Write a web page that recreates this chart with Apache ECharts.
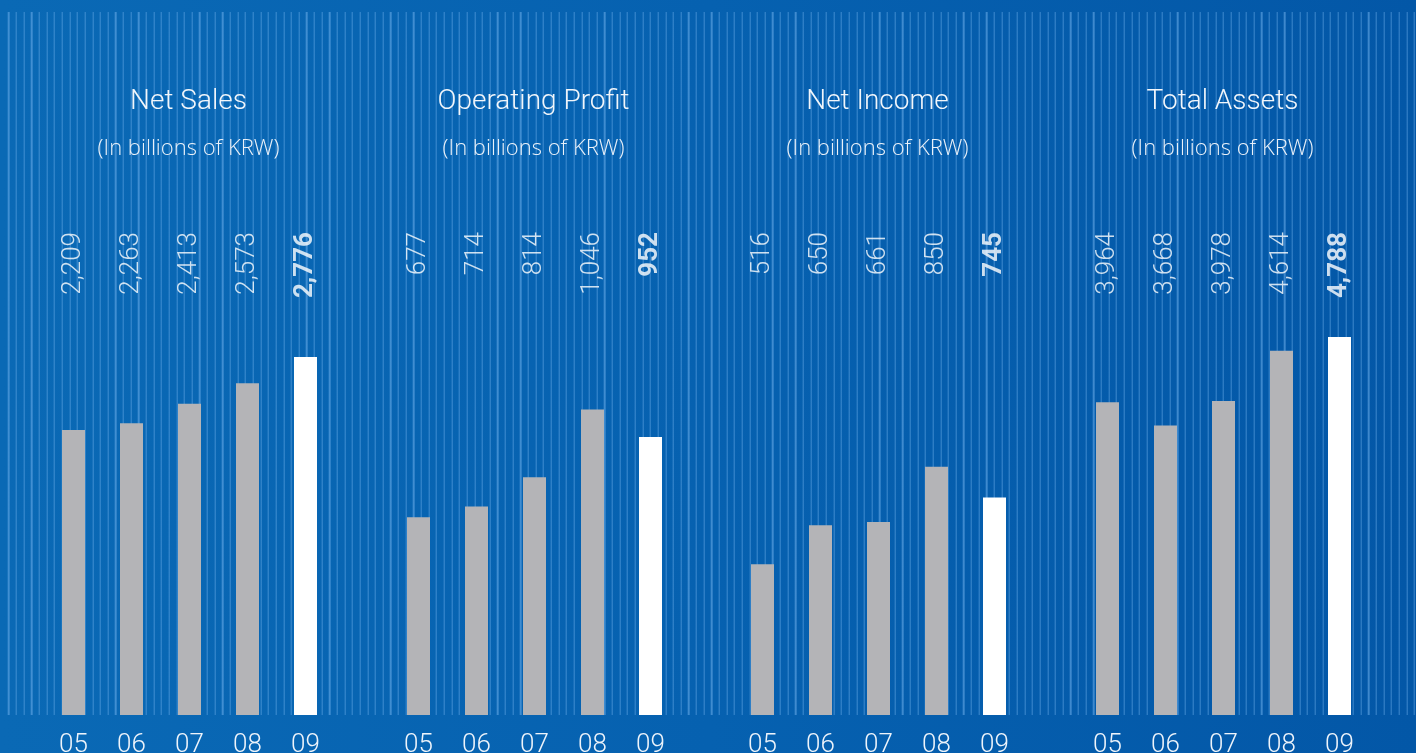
<!DOCTYPE html>
<html>
<head>
<meta charset="utf-8">
<title>Financial Highlights</title>
<script src="https://cdn.jsdelivr.net/npm/echarts@6/dist/echarts.min.js"></script>
<style>
    html, body { margin: 0; padding: 0; }
    #wrap {
        position: relative;
        width: 1416px;
        height: 753px;
        overflow: hidden;
        background: linear-gradient(90deg, #0a69b5 0%, #0661b0 50%, #0357a7 100%);
    }
    /* thin vertical pin-stripes behind the bars */
    #stripes {
        position: absolute;
        left: 0;
        top: 12px;
        width: 1416px;
        height: 703px;
        background: repeating-linear-gradient(90deg,
            rgba(0, 0, 0, 0) 0px, rgba(0, 0, 0, 0) 6.5px,
            rgba(110, 175, 235, 0.55) 6.5px, rgba(110, 175, 235, 0.55) 7.64px);
        background-position: 1.7px 0;
    }
    #main {
        position: absolute;
        left: 0;
        top: 0;
        width: 1416px;
        height: 753px;
    }
</style>
</head>
<body>
<div id="wrap">
    <div id="stripes"></div>
    <div id="main"></div>
</div>
<script>
    var years = ['05', '06', '07', '08', '09'];

    var netSales = [2209, 2263, 2413, 2573, 2776];
    var operatingProfit = [677, 714, 814, 1046, 952];
    var netIncome = [516, 650, 661, 850, 745];
    var totalAssets = [3964, 3668, 3978, 4614, 4788];

    var panelTitles = ['Net Sales', 'Operating Profit', 'Net Income', 'Total Assets'];
    var unitText = '(In billions of KRW)';

    // value axis top for each panel (keeps the original drawing scale)
    var axisMax = [3745, 1654, 1654, 6120];

    (function () {
        "use strict";

        var FONT = 'Roboto, "Liberation Sans", sans-serif',
            SUB_FONT = '"Open Sans", Roboto, sans-serif',
            TEXT_COLOR = '#ffffff',
            BAR_GRAY = '#b4b4b7',
            panels = [netSales, operatingProfit, netIncome, totalAssets],
            centers = [189.5, 534.5, 878.5, 1223.5],
            gridWidth = 290,
            chart = echarts.init(document.getElementById('main')),
            titles = [], grids = [], xAxes = [], yAxes = [], series = [],
            i;

        var fmt = function (v) {
            return v.toLocaleString('en-US');
        };

        for (i = 0; i < panels.length; i++) {
            (function (idx, values) {
                var last = values.length - 1;

                titles.push({
                    text: panelTitles[idx],
                    subtext: unitText,
                    left: centers[idx] - 1,
                    top: 88,
                    padding: 0,
                    textAlign: 'center',
                    itemGap: 22,
                    textStyle: {
                        color: '#f2f6fb',
                        fontFamily: FONT,
                        fontWeight: 300,
                        fontSize: 28
                    },
                    subtextStyle: {
                        color: '#eaf1f9',
                        fontFamily: SUB_FONT,
                        fontWeight: 300,
                        fontSize: 22
                    }
                });

                grids.push({
                    left: centers[idx] - gridWidth / 2,
                    width: gridWidth,
                    top: 232,
                    bottom: 38,
                    outerBoundsMode: 'none'
                });

                xAxes.push({
                    type: 'category',
                    gridIndex: idx,
                    data: years,
                    axisLine: { show: false },
                    axisTick: { show: false },
                    axisLabel: {
                        color: '#eef4fb',
                        fontFamily: FONT,
                        fontWeight: 300,
                        fontSize: 26,
                        margin: 17
                    }
                });

                yAxes.push({
                    type: 'value',
                    gridIndex: idx,
                    min: 0,
                    max: axisMax[idx],
                    show: false,
                    splitLine: { show: false }
                });

                // bars, last year highlighted in white
                series.push({
                    type: 'bar',
                    xAxisIndex: idx,
                    yAxisIndex: idx,
                    barWidth: 23,
                    silent: true,
                    data: values.map(function (v, j) {
                        return {
                            value: v,
                            itemStyle: { color: j === last ? '#ffffff' : BAR_GRAY }
                        };
                    })
                });

                // rotated value labels, hung from the top of the plot
                series.push({
                    type: 'scatter',
                    xAxisIndex: idx,
                    yAxisIndex: idx,
                    symbolSize: 1,
                    silent: true,
                    itemStyle: { color: 'rgba(0,0,0,0)' },
                    label: {
                        show: true,
                        position: 'inside',
                        rotate: 90,
                        align: 'right',
                        verticalAlign: 'middle',
                        color: TEXT_COLOR,
                        fontFamily: FONT,
                        fontSize: 26,
                        formatter: function (p) {
                            return fmt(values[p.dataIndex]);
                        }
                    },
                    // bold weight for the latest year
                    data: values.map(function (v, j) {
                        return {
                            value: axisMax[idx],
                            label: { fontWeight: j === last ? 'bold' : 300 }
                        };
                    })
                });
            })(i, panels[i]);
        }

        chart.setOption({
            backgroundColor: 'transparent',
            animation: false,
            title: titles,
            grid: grids,
            xAxis: xAxes,
            yAxis: yAxes,
            series: series
        });
    })();
</script>
</body>
</html>
